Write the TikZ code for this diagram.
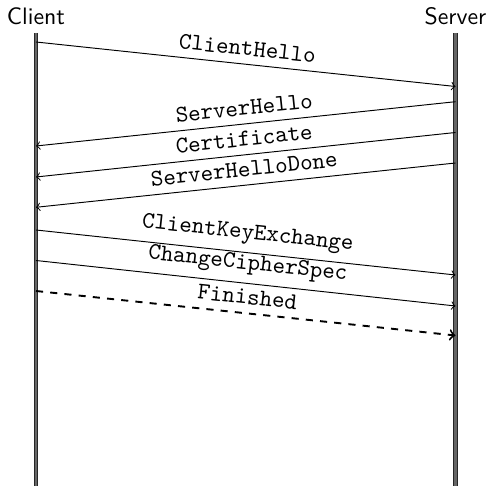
\documentclass[tikz,border=0pt]{standalone}
\usetikzlibrary{arrows}
\begin{document}
\begin{tikzpicture}[x=0.4202pt,y=-0.4202pt,
  actor/.style={font=\sffamily, anchor=base, inner sep=0pt},
  lifeline/.style={draw=black!85, line width=0.4pt, double=black!60, double distance=0.9pt},
  msg/.style={->},
  finmsg/.style={->, thick, dashed},
  lbl/.style={midway, above, sloped, font=\ttfamily}]
\useasboundingbox (0,0) rectangle (489,486);
% actors
\node[actor] (client) at (36,25) {Client};
\node[actor] (server) at (455.5,25) {Server};
% lifelines
\coordinate (ctop) at (36,33);
\coordinate (cbot) at (36,486);
\coordinate (stop) at (455.5,33);
\coordinate (sbot) at (455.5,486);
\draw[lifeline] (ctop) -- (cbot);
\draw[lifeline] (stop) -- (sbot);
% message end points
\coordinate (c1) at (36,42);    \coordinate (s1) at (455.5,86.5);
\coordinate (s2) at (455.5,101.7); \coordinate (c2) at (36,146);
\coordinate (s3) at (455.5,132.5); \coordinate (c3) at (36,177);
\coordinate (s4) at (455.5,163); \coordinate (c4) at (36,207.3);
\coordinate (c5) at (36,230);   \coordinate (s5) at (455.5,275);
\coordinate (c6) at (36,260.5); \coordinate (s6) at (455.5,306);
\coordinate (c7) at (36,291);   \coordinate (s7) at (455.5,335.5);
% messages
\draw[msg] (c1) -- node[lbl] {ClientHello} (s1);
\draw[msg] (s2) -- node[lbl] {ServerHello} (c2);
\draw[msg] (s3) -- node[lbl] {Certificate} (c3);
\draw[msg] (s4) -- node[lbl] {ServerHelloDone} (c4);
\draw[msg] (c5) -- node[lbl] {ClientKeyExchange} (s5);
\draw[msg] (c6) -- node[lbl] {ChangeCipherSpec} (s6);
\draw[finmsg] (c7) -- node[lbl] {Finished} (s7);
\end{tikzpicture}
\end{document}
